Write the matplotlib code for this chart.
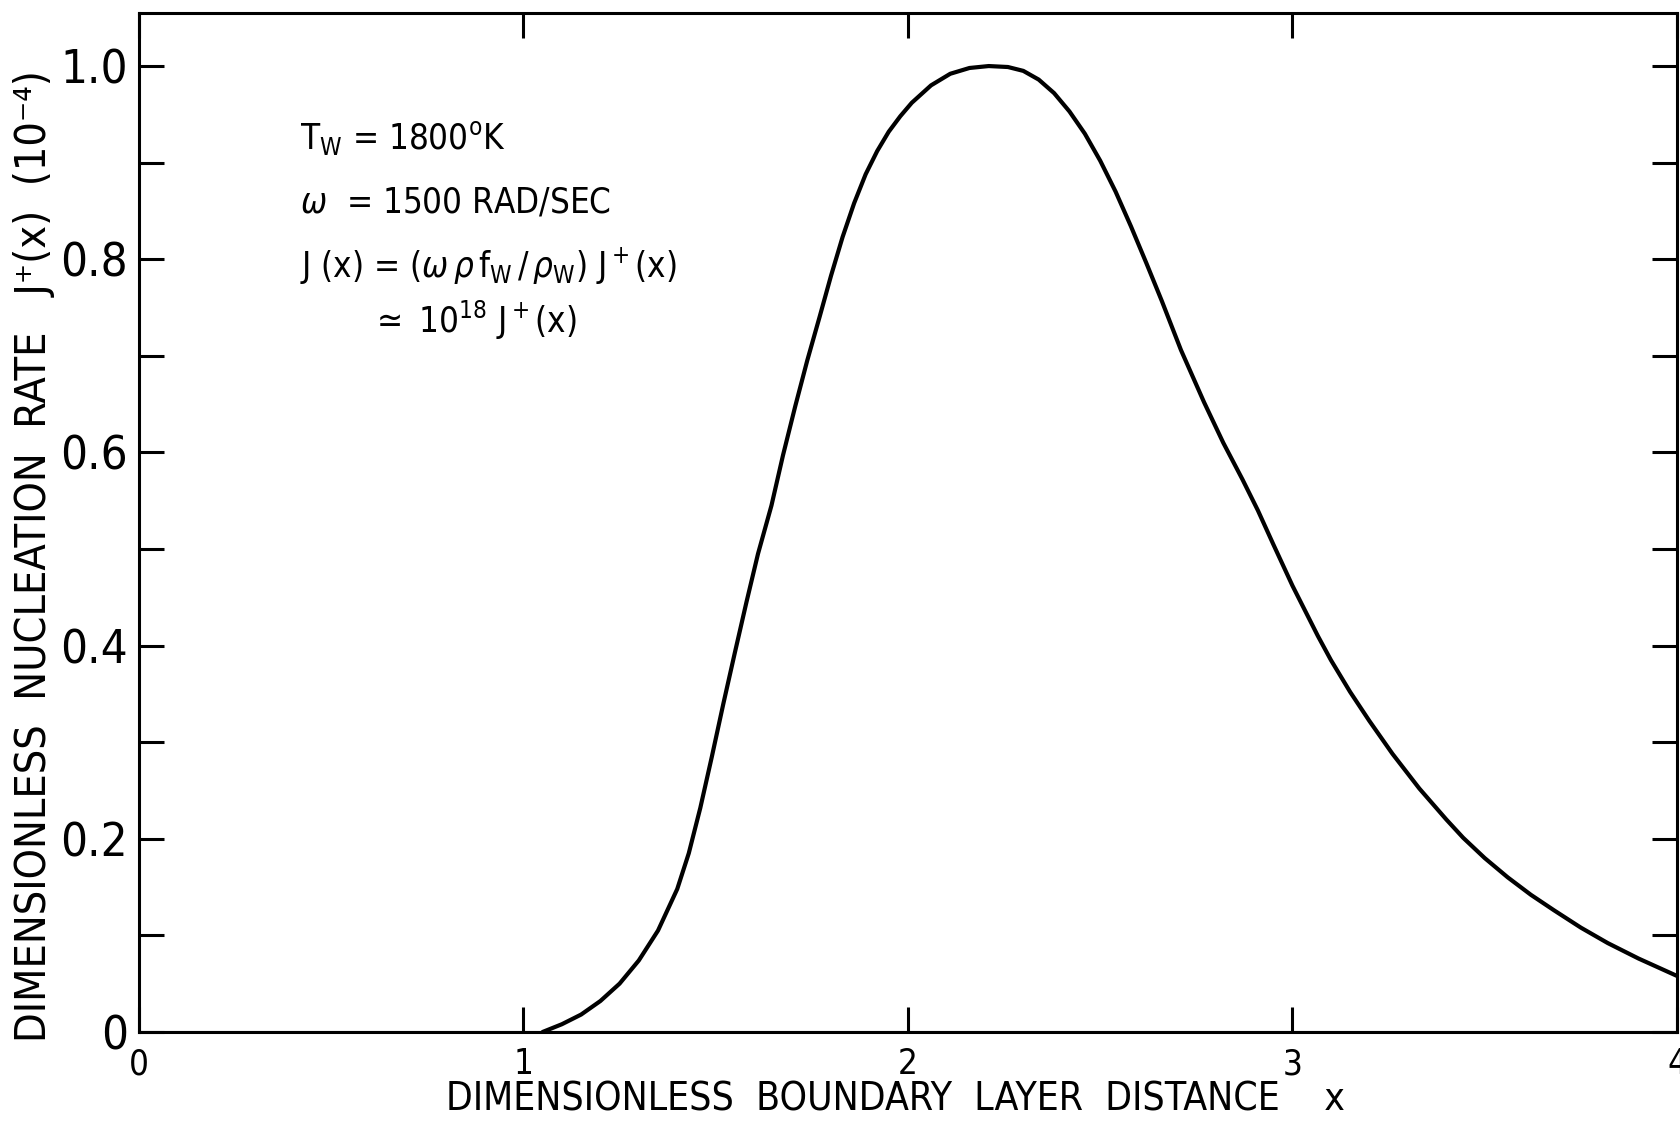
import matplotlib
matplotlib.use("Agg")
import matplotlib.pyplot as plt
from matplotlib.ticker import MultipleLocator, FixedLocator

plt.rcParams['font.family'] = ['DejaVu Sans']
plt.rcParams['font.stretch'] = 'condensed'
plt.rcParams['mathtext.fontset'] = 'dejavusans'

# Curve (x, J+(x) in units of 1e-4)
x_vals = [1.05, 1.10, 1.15, 1.20, 1.25, 1.30, 1.35, 1.40, 1.43, 1.46,
          1.49, 1.52, 1.55, 1.58, 1.61, 1.645, 1.675, 1.707, 1.738, 1.77,
          1.80, 1.83, 1.86, 1.89, 1.92, 1.95, 1.98, 2.01, 2.06, 2.11,
          2.16, 2.21, 2.26, 2.30, 2.34, 2.38, 2.42, 2.46, 2.50, 2.54,
          2.58, 2.62, 2.66, 2.71, 2.77, 2.82, 2.87, 2.91, 2.95, 3.00,
          3.066, 3.10, 3.15, 3.20, 3.26, 3.33, 3.40, 3.444, 3.50, 3.56,
          3.62, 3.68, 3.75, 3.82, 3.90, 4.0]
y_vals = [0.0, 0.008, 0.018, 0.032, 0.05, 0.074, 0.105, 0.148, 0.185, 0.232,
          0.285, 0.34, 0.393, 0.445, 0.495, 0.545, 0.597, 0.648, 0.695, 0.74,
          0.783, 0.823, 0.858, 0.888, 0.912, 0.932, 0.948, 0.962, 0.98, 0.992,
          0.998, 1.0, 0.999, 0.995, 0.986, 0.972, 0.953, 0.93, 0.902, 0.87,
          0.834, 0.796, 0.757, 0.706, 0.652, 0.61, 0.572, 0.54, 0.505, 0.462,
          0.41, 0.385, 0.352, 0.322, 0.288, 0.252, 0.22, 0.201, 0.18, 0.16,
          0.142, 0.126, 0.108, 0.092, 0.076, 0.058]

x_ticks = [0, 1, 2, 3, 4]
x_tick_labels = ['0', '1', '2', '3', '4']
y_ticks = [0, 0.2, 0.4, 0.6, 0.8, 1.0]
y_tick_labels = ['0', '0.2', '0.4', '0.6', '0.8', '1.0']

annotations = [
    r"$\mathregular{T_W}$ = 1800$\mathregular{^o}$K",
    r"$\omega$  = 1500 RAD/SEC",
    r"J (x) = ($\omega\,\rho\,\mathregular{f_W}\,/\,\rho_\mathregular{W}$) J$\mathregular{^+}$(x)",
    r"$\simeq$ 10$\mathregular{^{18}}$ J$\mathregular{^+}$(x)",
]
annot_x = [0.42, 0.42, 0.42, 0.60]
annot_y = [0.926, 0.859, 0.793, 0.737]

fig = plt.figure(figsize=(16.8, 11.24), dpi=100)
ax = fig.add_axes([0.0827, 0.0819, 0.9155, 0.9066])

ax.plot(x_vals, y_vals, color='black', lw=3.0, solid_capstyle='round',
        solid_joinstyle='round')
ax.axhline(0, color='black', lw=2.2)

ax.set_xlim(0, 4)
ax.set_ylim(0, 1.055)

ax.xaxis.set_major_locator(FixedLocator(x_ticks))
ax.set_xticklabels(x_tick_labels)
ax.yaxis.set_major_locator(FixedLocator(y_ticks))
ax.set_yticklabels(y_tick_labels)
ax.yaxis.set_minor_locator(MultipleLocator(0.1))

for s in ax.spines.values():
    s.set_linewidth(2.2)

ax.tick_params(axis='both', which='both', direction='in', top=True, right=True,
               length=18, width=2.2, color='black')
ax.tick_params(axis='x', which='major', labelsize=25, pad=11)
ax.tick_params(axis='y', which='major', labelsize=34, pad=8)

fig.text(0.533, 0.005, "DIMENSIONLESS  BOUNDARY  LAYER  DISTANCE    x",
         ha='center', va='bottom', fontsize=28)
fig.text(0.020, 0.505, "DIMENSIONLESS  NUCLEATION  RATE   J\u207a(x)  (10\u207b\u2074)",
         ha='center', va='center', rotation=90, fontsize=31)

for txt, tx, ty in zip(annotations, annot_x, annot_y):
    ax.text(tx, ty, txt, fontsize=25, ha='left', va='center')

fig.savefig("out.png", dpi=100, facecolor='white')
